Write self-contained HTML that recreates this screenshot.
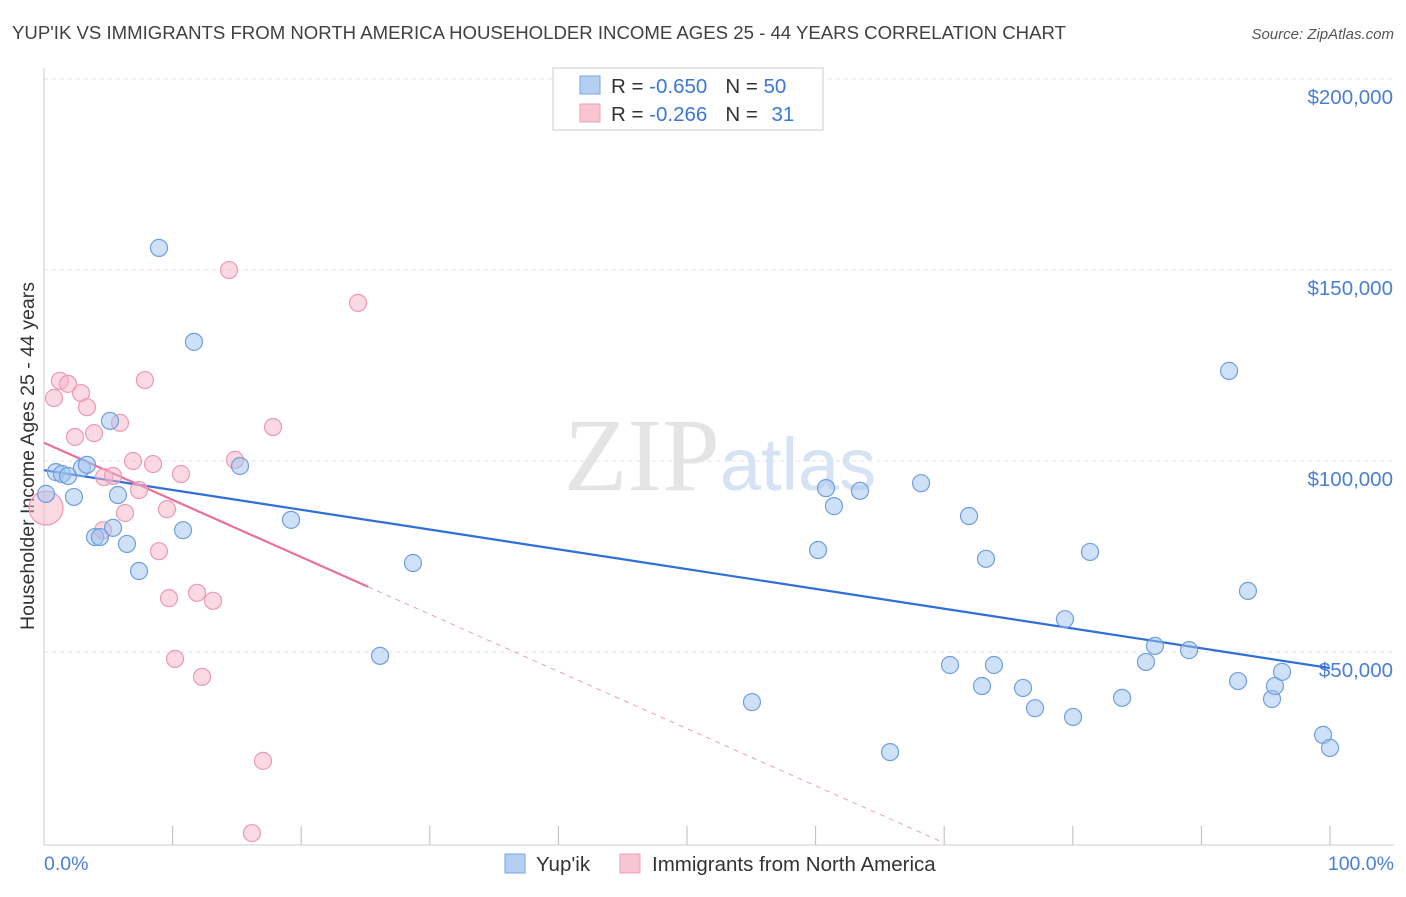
<!DOCTYPE html>
<html><head><meta charset="utf-8"><style>
body{margin:0;background:#fff;width:1406px;height:892px;overflow:hidden;font-family:"Liberation Sans",sans-serif}
</style></head><body>
<svg id="chart" width="1406" height="892" xmlns="http://www.w3.org/2000/svg" font-family="Liberation Sans, sans-serif">
<text x="12" y="39" font-size="18.6" fill="#404040">YUP'IK VS IMMIGRANTS FROM NORTH AMERICA HOUSEHOLDER INCOME AGES 25 - 44 YEARS CORRELATION CHART</text>
<text x="1394" y="39" font-size="15" fill="#555" font-style="italic" text-anchor="end">Source: ZipAtlas.com</text>
<g id="grid"></g>
<text x="720" y="490" font-size="104" text-anchor="middle" fill="#e4e4e4" font-family="Liberation Serif, serif">ZIP<tspan fill="#d6e3f5" font-family="Liberation Sans, sans-serif" font-size="74">atlas</tspan></text>
<line x1="44" y1="845" x2="1394" y2="845" stroke="#ccc"/>
<line x1="44" y1="68" x2="44" y2="845" stroke="#ccc"/>
<text transform="translate(34,456) rotate(-90)" font-size="19.5" fill="#333" text-anchor="middle">Householder Income Ages 25 - 44 years</text>
<text x="44" y="870" font-size="19.5" fill="#4a7fd4">0.0%</text>
<text x="1394" y="870" font-size="19.5" fill="#4a7fd4" text-anchor="end">100.0%</text>
<g id="lines"></g>
<g id="dots"></g>
<g>
<rect x="553" y="68" width="270" height="62" fill="#fff" stroke="#ccc"/>
<rect x="580" y="76" width="20" height="18" fill="#b5cff3" stroke="#7aa5e3"/>
<rect x="580" y="104" width="20" height="18" fill="#f9c5d3" stroke="#eb9fb7"/>
<text x="611" y="93" font-size="20.5" fill="#333">R = <tspan fill="#3a78d6">-0.650</tspan><tspan dx="18">N = </tspan><tspan fill="#3a78d6">50</tspan></text>
<text x="611" y="121" font-size="20.5" fill="#333">R = <tspan fill="#3a78d6">-0.266</tspan><tspan dx="18">N = </tspan><tspan fill="#3a78d6" dx="8">31</tspan></text>
</g>
<g>
<rect x="505" y="854" width="20" height="19" fill="#b5cff3" stroke="#7aa5e3"/>
<text x="536" y="871" font-size="20.5" fill="#333">Yup'ik</text>
<rect x="620" y="854" width="20" height="19" fill="#f9c5d3" stroke="#eb9fb7"/>
<text x="652" y="871" font-size="20.5" fill="#333">Immigrants from North America</text>
</g>
</svg>
<script>
const yTicks=[50000,100000,150000,200000];
const yTickLabels=["$50,000","$100,000","$150,000","$200,000"];
const xTicks=[0,10,20,30,40,50,60,70,80,90,100];
const blueX=[0.16,0.93,1.4,1.87,2.33,2.95,3.34,5.13,5.75,5.37,3.97,4.35,6.45,7.39,8.94,10.81,11.66,15.24,19.21,26.13,28.69,55.05,60.19,60.81,61.43,63.45,65.79,68.2,70.45,71.93,72.94,73.25,73.87,76.13,77.06,79.39,80.02,81.34,83.83,85.69,86.39,89.04,92.15,92.85,93.62,95.49,95.72,96.27,99.46,100];
const blueY=[91.4,97.1,96.6,96.1,90.6,98.2,99.0,110.5,91.1,82.5,80.1,80.1,78.3,71.2,155.8,81.9,131.2,98.7,84.6,49.0,73.3,36.9,76.7,92.9,88.2,92.2,23.8,94.2,46.6,85.6,41.1,74.4,46.6,40.6,35.3,58.6,33.0,76.2,38.0,47.4,51.6,50.5,123.6,42.4,66.0,37.7,41.1,44.8,28.3,24.9];
const pinkX=[0.16,0.78,1.24,1.87,2.41,2.88,3.34,3.89,4.59,4.67,5.37,5.91,6.3,6.92,7.39,7.85,8.48,8.94,9.56,9.72,10.19,10.65,11.9,12.29,13.14,14.39,14.85,16.17,17.03,17.81,24.42];
const pinkY=[87.7,116.5,121.0,120.2,106.3,117.8,114.1,107.3,81.9,95.8,96.1,110.0,86.4,100.0,92.4,121.2,99.2,76.4,87.4,64.1,48.2,96.6,65.5,43.5,63.4,150.0,100.3,2.6,21.5,108.9,141.4];
const blueTrend=[97.6,45.8];
const pinkTrend=[104.8,0];
const pinkSolidEnd=25.2, pinkZeroX=70.0;
const NS="http://www.w3.org/2000/svg";
const xs=v=>44+v*12.86;
const ys=v=>843-v*1000/261.8;
const ysD=d=>843-d/50000*191;
const mk=(t,a,p)=>{const e=document.createElementNS(NS,t);for(const k in a)e.setAttribute(k,a[k]);p.appendChild(e);return e;};
const grid=document.getElementById('grid');
yTicks.forEach((t,i)=>{
 const l=mk('line',{x1:44,x2:1394,y1:ysD(t),y2:ysD(t),stroke:'#e3e3e3','stroke-dasharray':'4,4'},grid);
 
 
 const tx=mk('text',{x:1393,y:ysD(t)+25,'font-size':20.5,fill:'#4a7fd4','text-anchor':'end'},grid);
 tx.textContent=yTickLabels[i];
 
 
});
xTicks.forEach(t=>{
 const l=mk('line',{x1:xs(t),x2:xs(t),y1:826,y2:845,stroke:'#bbb'},grid);
 
 
});
const lines=document.getElementById('lines');
const tb=mk('line',{x1:xs(0),y1:ys(blueTrend[0]),x2:xs(100),y2:ys(blueTrend[1]),stroke:'#2f6fd6','stroke-width':2.2},lines);


const pv=x=>pinkTrend[0]+(pinkTrend[1]-pinkTrend[0])*x/pinkZeroX;
const tp=mk('line',{x1:xs(0),y1:ys(pinkTrend[0]),x2:xs(pinkSolidEnd),y2:ys(pv(pinkSolidEnd)),stroke:'#e8709a','stroke-width':2.2},lines);


const tpd=mk('line',{x1:xs(pinkSolidEnd),y1:ys(pv(pinkSolidEnd)),x2:xs(pinkZeroX),y2:ys(0),stroke:'#e8a0b8','stroke-width':1,'stroke-dasharray':'5,5'},lines);


const dots=document.getElementById('dots');
pinkX.forEach((x,i)=>{
 const c=mk('circle',{cx:xs(x),cy:ys(pinkY[i]),r:i===0?17:8.5,fill:'rgba(246,180,200,0.5)',stroke:'#eb9ab4','stroke-width':1.2},dots);
 
 
});
blueX.forEach((x,i)=>{
 const c=mk('circle',{cx:xs(x),cy:ys(blueY[i]),r:8.5,fill:'rgba(160,195,240,0.5)',stroke:'#6f9ee0','stroke-width':1.2},dots);
 
 
});
</script>
</body></html>
